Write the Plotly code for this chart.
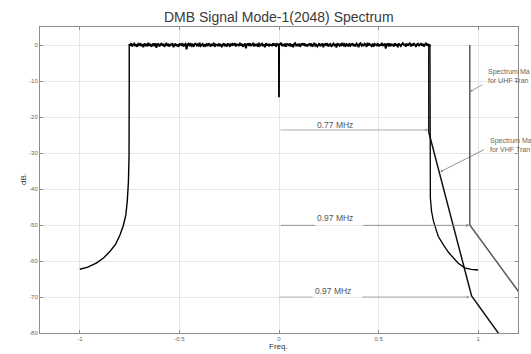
import numpy as np
import plotly.graph_objects as go

# ---------------- data ----------------
# left skirt of the spectrum (MHz, dB)
left_f = [-1.0, -0.96, -0.915, -0.88, -0.848, -0.82, -0.798, -0.782, -0.769, -0.762, -0.756, -0.753, -0.752, -0.752]
left_db = [-62.3, -61.7, -60.5, -59.1, -57.3, -55.3, -52.7, -50.2, -47.2, -43.5, -38.0, -31.0, -10.0, 0.2]

# flat in-band region (noise-like ripple, dB) between band edges
band_start, band_end = -0.752, 0.758
band_db = [
    0.3, -0.2, 0.5, -0.4, 0.1, 0.4, -0.3, 0.2, -0.5, 0.3, 0.0, 0.5, -0.3, 0.2, -0.6, 0.4, -0.1, 0.3, -0.4, 0.6,
    -0.2, 0.3, -0.5, 0.1, 0.4, -0.3, 0.5, -0.8, 0.2, 0.3, -0.4, 0.1, 0.5, -0.2, 0.3, -0.5, 0.2, 0.6, -0.3, 0.1,
    -0.4, 0.3, -0.1, 0.5, -0.6, 0.2, 0.4, -0.3, 0.1, -0.5, 0.3, 0.2, -0.2, 0.5, -0.4, 0.1, 0.3, -1.2, 0.2, 0.4,
    -0.3, 0.5, -0.2, 0.1, -0.5, 0.3, 0.4, -0.1, 0.2, -0.4, 0.6, -0.3, 0.1, 0.3, -0.5, 0.2, -0.2, 0.4, -0.3, 0.5,
    0.1, -0.4, 0.3, -0.2, 0.6, -0.5, 0.2, 0.1, -0.3, 0.4, -0.1, 0.3, -0.6, 0.2, 0.5, -0.3, 0.1, -0.4, 0.3, 0.2,
    -0.5, 0.4, -0.2, 0.3, -0.1, 0.5, -0.4, 0.2, 0.1, -0.3, 0.6, -0.2, 0.3, -0.5, 0.1, 0.4, -0.9, 0.2, 0.3, -0.2,
    0.5, -0.3, 0.1, 0.4, -0.4, 0.2, -0.1, 0.3, -0.5, 0.6, -0.2, 0.1, 0.4, -0.3, 0.2, -0.6, 0.5, -0.1, 0.3, -0.4,
    0.2, 0.1, -0.3, 0.5, -0.2, 0.4, -0.5, 0.3, 0.1, -0.4, 0.2, 0.6, -0.3, 0.1, -0.2, 0.4, -0.5, 0.3, 0.2, -0.1,
    0.4, -0.4, 0.2, -0.6, 0.3, 0.5, -0.2, 0.1, -0.3, 0.4, -0.5, 0.2, 0.3, -0.1, 0.5, -0.3, 0.2, -0.4, 0.1, 0.3,
    -0.1, 0.4, -0.5, 0.2, 0.6, -0.2, 0.1, -0.4, 0.3, 0.5, -0.3, 0.0, 0.4, -0.6, 0.2, 0.3, -0.2, 0.5, -0.4, 0.1,
    0.3, -0.5, 0.2, 0.4, -0.1, 0.3, -0.7, 0.5, 0.1, -0.2, 0.4, -0.3, 0.6, -0.1, 0.2, -0.5, 0.3, 0.1, -0.4, 0.5,
    -0.2, 0.1, 0.5, -0.3, 0.2, -0.4, 0.4, 0.1, -0.6, 0.3, 0.5, -0.2, 0.1, -0.3, 0.4, 0.2, -0.5, 0.6, -0.1, 0.3,
    0.1, -0.3, 0.4, -0.5, 0.3, 0.2, -0.1, 0.5, -0.4, 0.2, -0.2, 0.6, -0.3, 0.1, 0.4, -1.0, 0.2, 0.3, -0.4, 0.5,
    -0.3, 0.2, 0.1, -0.4, 0.5, -0.2, 0.3, -0.6, 0.4, 0.1, -0.3, 0.2, 0.5, -0.1, 0.3, -0.5, 0.4, -0.2, 0.1, 0.6,
    -0.4, 0.3, -0.2, 0.5, 0.1, -0.5, 0.2, 0.4, -0.3, 0.1, 0.5, -0.2, 0.3, -0.4, 0.2, 0.6, -0.1, 0.3, -0.5, 0.2,
]
# DC notch
notch_f = [-0.0006, 0.0, 0.0006]
notch_db = [0.2, -14.5, -0.1]

# right skirt of the spectrum
right_f = [0.758, 0.758, 0.760, 0.766, 0.775, 0.786, 0.800, 0.824, 0.850, 0.875, 0.900, 0.933, 0.965, 1.0]
right_db = [0.1, -37.4, -42.5, -46.2, -48.8, -50.8, -53.2, -55.4, -57.5, -59.1, -60.6, -61.9, -62.3, -62.5]

# spectrum masks
uhf_mask_f = [0.958, 0.958, 1.2, 1.5]
uhf_mask_db = [0.0, -50.0, -68.3, -91.0]
vhf_mask_f = [0.752, 0.752, 0.967, 1.10, 1.40]
vhf_mask_db = [0.0, -24.2, -69.7, -80.0, -103.0]

x_ticks = [-1, -0.5, 0, 0.5, 1]
x_ticktext = ["-1", "-0.5", "0", "0.5", "1"]
y_ticks = [0, -10, -20, -30, -40, -50, -60, -70, -80]
y_ticktext = ["0", "-10", "-20", "-30", "-40", "-50", "-60", "-70", "-80"]

# visible (cropped) parts of the mask labels, as in the picture
uhf_label = "Spectrum Ma<br>for UHF Tran"
vhf_label = "Spectrum Ma<br>for VHF Tran"

# ---------------- build traces ----------------
band_f = np.linspace(band_start, band_end, len(band_db))
mid_f = np.concatenate([band_f, notch_f])
mid_db = np.concatenate([band_db, notch_db])
order = np.argsort(mid_f, kind="stable")
mid_f, mid_db = mid_f[order], mid_db[order]

fig = go.Figure()
fig.add_trace(go.Scatter(x=uhf_mask_f, y=uhf_mask_db, mode="lines",
                         line=dict(color="#5a5a5a", width=1.5), showlegend=False))
fig.add_trace(go.Scatter(x=vhf_mask_f, y=vhf_mask_db, mode="lines",
                         line=dict(color="#111111", width=1.5), showlegend=False))
fig.add_trace(go.Scatter(x=left_f, y=left_db, mode="lines",
                         line=dict(color="#000000", width=1.4), showlegend=False))
fig.add_trace(go.Scatter(x=right_f, y=right_db, mode="lines",
                         line=dict(color="#000000", width=1.3), showlegend=False))
fig.add_trace(go.Scatter(x=mid_f, y=mid_db, mode="lines",
                         line=dict(color="#000000", width=1.8), showlegend=False))

axis_common = dict(showgrid=True, gridcolor="#e6e6e6", gridwidth=1, zeroline=False,
                   showline=True, linecolor="#8c8c8c", linewidth=1, mirror="ticks",
                   ticks="inside", ticklen=3, tickcolor="#8c8c8c",
                   tickfont=dict(family="Liberation Sans, Arial", size=6, color="#666666"))

fig.update_xaxes(range=[-1.2, 1.2], tickvals=x_ticks, ticktext=x_ticktext, **axis_common)
fig.update_yaxes(range=[-80, 5], tickvals=y_ticks, ticktext=y_ticktext, **axis_common)

ann = []
txt_font = dict(family="Liberation Sans, Arial", size=8.5, color="#555555")

# 0.77 MHz arrow
ann.append(dict(x=0.749, y=-23.6, ax=0.0, ay=-23.6, xref="x", yref="y", axref="x", ayref="y",
                text="", showarrow=True, arrowhead=2, arrowsize=0.7, arrowwidth=0.8,
                arrowcolor="#999999", standoff=0))
ann.append(dict(x=0.281, y=-22.3, xref="x", yref="y", text="0.77 MHz", showarrow=False,
                font=txt_font, xanchor="center", yanchor="middle"))

shapes = []
# upper 0.97 MHz arrow (broken around text)
shapes.append(dict(type="line", xref="x", yref="y", x0=0.01, x1=0.181, y0=-50.1, y1=-50.1,
                   line=dict(color="#8a8a8a", width=0.9)))
ann.append(dict(x=0.956, y=-50.1, ax=0.415, ay=-50.1, xref="x", yref="y", axref="x", ayref="y",
                text="", showarrow=True, arrowhead=2, arrowsize=0.7, arrowwidth=0.9,
                arrowcolor="#8a8a8a", standoff=0))
ann.append(dict(x=0.281, y=-48.1, xref="x", yref="y", text="0.97 MHz", showarrow=False,
                font=txt_font, xanchor="center", yanchor="middle"))

# lower 0.97 MHz arrow
shapes.append(dict(type="line", xref="x", yref="y", x0=0.0, x1=0.169, y0=-70.0, y1=-70.0,
                   line=dict(color="#b0b0b0", width=0.9)))
ann.append(dict(x=0.958, y=-70.0, ax=0.41, ay=-70.0, xref="x", yref="y", axref="x", ayref="y",
                text="", showarrow=True, arrowhead=2, arrowsize=0.7, arrowwidth=0.9,
                arrowcolor="#a0a0a0", standoff=0))
ann.append(dict(x=0.271, y=-68.2, xref="x", yref="y", text="0.97 MHz", showarrow=False,
                font=txt_font, xanchor="center", yanchor="middle"))

mask_font = dict(family="Liberation Sans, Arial", size=7, color="#666666")
# UHF mask label
ann.append(dict(x=1.041, y=-8.6, xref="x", yref="y", text=uhf_label,
                showarrow=False, font=mask_font, xanchor="left", yanchor="middle", align="left"))
ann.append(dict(x=0.961, y=-12.9, ax=1.029, ay=-10.8, xref="x", yref="y", axref="x", ayref="y",
                text="", showarrow=True, arrowhead=2, arrowsize=0.6, arrowwidth=0.7,
                arrowcolor="#777777", standoff=0))
# VHF mask label
ann.append(dict(x=1.048, y=-27.8, xref="x", yref="y", text=vhf_label,
                showarrow=False, font=mask_font, xanchor="left", yanchor="middle", align="left"))
ann.append(dict(x=0.811, y=-35.2, ax=1.035, ay=-28.9, xref="x", yref="y", axref="x", ayref="y",
                text="", showarrow=True, arrowhead=2, arrowsize=0.6, arrowwidth=0.7,
                arrowcolor="#666666", standoff=0))

# titles
ann.append(dict(x=0.5, y=1.0325, xref="paper", yref="paper", text="DMB Signal Mode-1(2048) Spectrum",
                showarrow=False, xanchor="center", yanchor="middle",
                font=dict(family="Liberation Sans, Arial", size=14, color="#3a3a3a")))
ann.append(dict(x=-0.0356, y=0.503, xref="paper", yref="paper", text="dB.", textangle=-90,
                showarrow=False, xanchor="center", yanchor="middle",
                font=dict(family="Liberation Sans, Arial", size=8, color="#333333")))
ann.append(dict(x=0.498, y=-0.0455, xref="paper", yref="paper", text="Freq.",
                showarrow=False, xanchor="center", yanchor="middle",
                font=dict(family="Liberation Sans, Arial", size=8, color="#333333")))

fig.update_layout(width=531, height=354, margin=dict(l=40, r=13, t=27, b=19),
                  paper_bgcolor="white", plot_bgcolor="white",
                  annotations=ann, shapes=shapes, showlegend=False)

fig.write_html("out.html")
